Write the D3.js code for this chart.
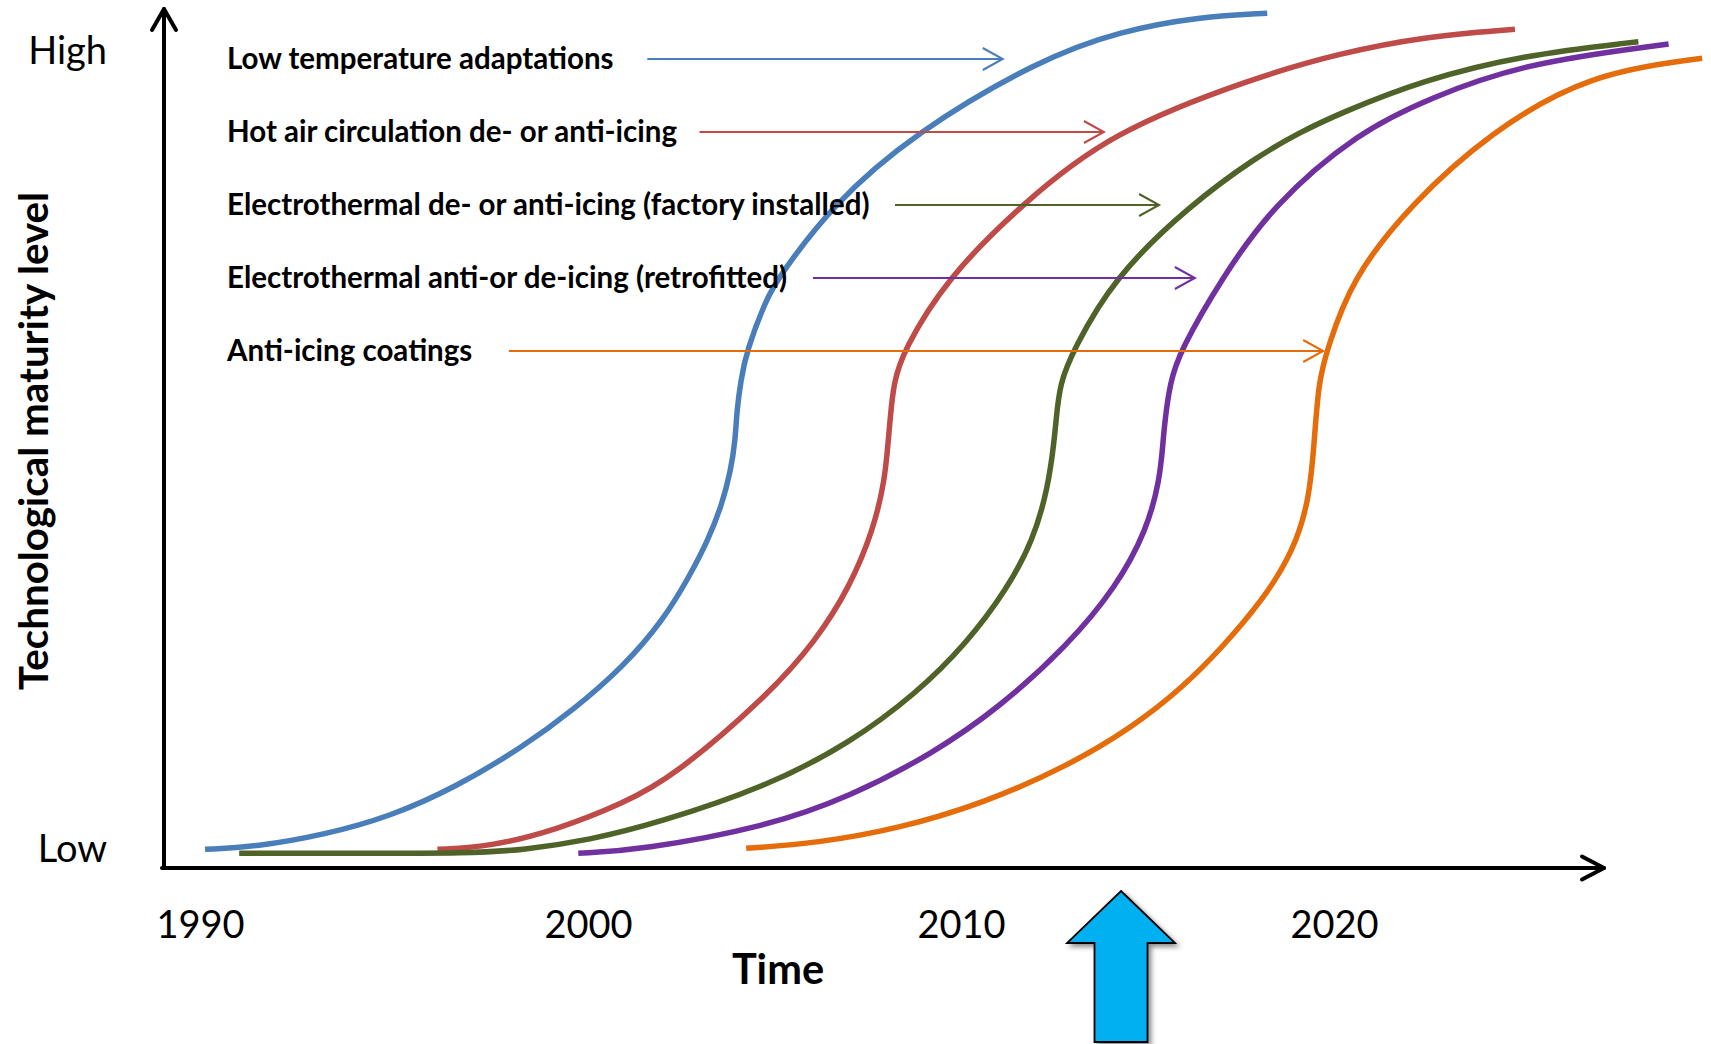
<!DOCTYPE html>
<html>
<head>
<meta charset="utf-8">
<script src="https://cdn.jsdelivr.net/npm/d3@7"></script>
<style>
  html, body { margin: 0; padding: 0; background: #ffffff; }
  svg { display: block; font-family: Lato, "Open Sans", sans-serif; }
</style>
</head>
<body>
<svg id="chart" width="1711" height="1044"></svg>
<script>
// ---- Technology names and line colours ----
const seriesNames = [
  "Low temperature adaptations",
  "Hot air circulation de- or anti-icing",
  "Electrothermal de- or anti-icing (factory installed)",
  "Electrothermal anti-or de-icing (retrofitted)",
  "Anti-icing coatings"
];
const seriesColors = ["#4A7EBB", "#BE4B48", "#4F6228", "#7030A0", "#E46C0A"];

// ---- S-curves: [year, maturity level 0..100] ----
const lowTemperature = [
  [1990.13, 2.15], [1991.46, 2.45], [1993.18, 3.80], [1994.90, 5.91], [1996.62, 9.37],
  [1998.33, 13.97], [1999.62, 18.20], [2000.95, 23.19], [2002.02, 28.57], [2002.71, 33.53],
  [2003.22, 37.79], [2003.59, 41.82], [2003.83, 45.85], [2003.95, 49.31], [2003.99, 52.76],
  [2004.10, 56.22], [2004.25, 59.56], [2004.77, 65.44], [2005.09, 67.94], [2006.54, 76.38],
  [2008.77, 84.76], [2012.12, 93.17], [2014.26, 96.43], [2016.41, 98.08], [2018.21, 98.47]
];
const hotAir = [
  [1996.12, 2.15], [1997.47, 2.45], [1999.19, 4.38], [2000.95, 7.45], [2002.29, 10.52],
  [2004.79, 19.74], [2006.13, 26.27], [2007.02, 32.41], [2007.65, 38.94], [2007.96, 44.70],
  [2008.05, 49.31], [2008.10, 51.61], [2008.19, 55.84], [2008.45, 59.56], [2009.62, 67.94],
  [2011.61, 76.38], [2013.99, 84.76], [2017.93, 91.16], [2020.16, 93.86], [2022.39, 95.77],
  [2024.85, 96.62]
];
const electroFactory = [
  [1991.01, 1.69], [1994.00, 1.69], [1996.94, 1.69], [1998.33, 2.07], [2000.05, 3.23],
  [2001.84, 5.15], [2004.79, 9.37], [2007.02, 14.37], [2008.81, 20.13], [2010.15, 25.89],
  [2011.22, 32.03], [2011.94, 37.79], [2012.34, 43.93], [2012.50, 49.31], [2012.55, 51.61],
  [2012.65, 55.84], [2013.00, 59.56], [2014.08, 67.94], [2016.14, 76.38], [2017.93, 81.95],
  [2019.09, 84.76], [2020.16, 86.95], [2022.39, 90.78], [2025.07, 93.66], [2028.16, 95.20]
];
const electroRetrofit = [
  [1999.75, 1.69], [2001.39, 2.07], [2004.79, 4.76], [2007.02, 8.21], [2009.26, 13.21],
  [2011.05, 18.58], [2012.83, 25.50], [2014.17, 32.41], [2014.98, 38.94], [2015.33, 44.70],
  [2015.42, 49.31], [2015.47, 51.61], [2015.60, 55.84], [2015.87, 59.56], [2016.99, 67.94],
  [2018.36, 76.38], [2020.64, 84.76], [2022.57, 88.71], [2025.08, 92.71], [2028.97, 94.93]
];
const coatings = [
  [2004.24, 2.27], [2006.13, 2.85], [2008.36, 4.57], [2010.60, 7.45], [2012.83, 11.67],
  [2014.62, 16.28], [2015.96, 20.89], [2016.94, 25.12], [2018.10, 30.88], [2018.93, 36.64],
  [2019.33, 42.40], [2019.46, 48.35], [2019.58, 55.84], [2019.80, 59.56], [2020.48, 67.94],
  [2022.04, 76.38], [2024.18, 84.76], [2026.86, 91.56], [2029.87, 93.28]
];
const seriesCurves = [lowTemperature, hotAir, electroFactory, electroRetrofit, coatings];

// ---- Label pointer arrows: start / end year on each label row ----
const pointerStart = [2001.59, 2002.99, 2008.23, 2006.03, 1997.96];
const pointerEnd   = [2011.12, 2013.83, 2015.31, 2016.27, 2019.71];

// ---- Axis labels ----
const tickYears = [1990, 2000, 2010, 2020];
const levelTicks = [2.1, 94.1];
const levelNames = ["Low", "High"];
const highlightYear = 2014.29;

// ---- Layout ----
const svg = d3.select("#chart");
const originX = 164, originY = 868, axisEndX = 1604, axisTopY = 9;

const x = d3.scaleLinear().domain([1990, 2000, 2020]).range([200, 588, 1334]);
const y = d3.scaleLinear().domain([0, 100]).range([originY, 0]);

const defs = svg.append("defs");
const shadow = defs.append("filter").attr("id", "arrowShadow")
  .attr("x", "-30%").attr("y", "-30%").attr("width", "160%").attr("height", "160%");
shadow.append("feDropShadow").attr("dx", 3).attr("dy", 3)
  .attr("stdDeviation", 2.5).attr("flood-color", "#000").attr("flood-opacity", 0.45);

// ---- Axes (arrowed lines) ----
const axisG = svg.append("g").attr("stroke", "#000").attr("stroke-width", 4)
  .attr("fill", "none").attr("stroke-linecap", "round").attr("stroke-linejoin", "round");
axisG.append("path").attr("d", `M${originX},${originY}V${axisTopY}`);
axisG.append("path").attr("d", `M${originX - 12},${axisTopY + 21}L${originX},${axisTopY}L${originX + 12},${axisTopY + 21}`);
axisG.append("path").attr("d", `M${originX - 2},${originY}H${axisEndX}`);
axisG.append("path").attr("d", `M${axisEndX - 22},${originY - 11.5}L${axisEndX},${originY}L${axisEndX - 22},${originY + 11.5}`);

// Year labels
const xAxis = d3.axisBottom(x).tickValues(tickYears).tickFormat(d3.format("d"))
  .tickSize(0).tickPadding(43);
const xAxisG = svg.append("g").attr("transform", `translate(0,${originY})`).call(xAxis);
xAxisG.select(".domain").remove();
xAxisG.selectAll("text").attr("font-family", "Lato, sans-serif")
  .attr("font-size", 38).attr("fill", "#000");

// Low / High labels
const yAxis = d3.axisLeft(y).tickValues(levelTicks)
  .tickFormat((d, i) => levelNames[i]).tickSize(0).tickPadding(57);
const yAxisG = svg.append("g").attr("transform", `translate(${originX},0)`).call(yAxis);
yAxisG.select(".domain").remove();
yAxisG.selectAll("text").attr("font-family", "Lato, sans-serif")
  .attr("font-size", 38).attr("fill", "#000");

// Axis titles
svg.append("text").attr("x", 778).attr("y", 984).attr("text-anchor", "middle")
  .attr("font-size", 41.5).attr("font-weight", 700).text("Time");
svg.append("text").attr("transform", "translate(48,441) rotate(-90)")
  .attr("text-anchor", "middle").attr("font-size", 40.3).attr("font-weight", 700)
  .text("Technological maturity level");

// ---- S-curves (smoothed B-spline through the sampled levels) ----
const line = d3.line()
  .x(d => x(d[0])).y(d => y(d[1]))
  .curve(d3.curveBasis);

svg.append("g").selectAll("path").data(seriesCurves).join("path")
  .attr("d", line)
  .attr("fill", "none")
  .attr("stroke", (d, i) => seriesColors[i])
  .attr("stroke-width", 5.5)
  .attr("stroke-linecap", "butt");

// ---- Labels with pointer arrows ----
const row = d3.scalePoint().domain(seriesNames).range([59, 351]);
const legend = svg.append("g");
legend.selectAll("text").data(seriesNames).join("text")
  .attr("x", 227).attr("y", d => row(d) + 10)
  .attr("font-size", 29.5).attr("font-weight", 700).attr("fill", "#000")
  .text(d => d);

const pointers = legend.selectAll("g.pointer").data(seriesNames).join("g")
  .attr("class", "pointer")
  .attr("stroke", (d, i) => seriesColors[i])
  .attr("stroke-width", 2).attr("fill", "none");
pointers.append("path")
  .attr("d", (d, i) => `M${x(pointerStart[i])},${row(d)}H${x(pointerEnd[i])}`);
pointers.append("path")
  .attr("stroke-linejoin", "miter")
  .attr("d", (d, i) => {
    const ex = x(pointerEnd[i]), ey = row(d);
    return `M${ex - 20},${ey - 11}L${ex},${ey}L${ex - 20},${ey + 11}`;
  });

// ---- Highlight arrow under the time axis ----
const tipX = x(highlightYear), tipY = 891;
const headHalf = 54, shaftHalf = 26.5, headBase = 943, shaftBottom = 1042;
const arrowPath = d3.path();
arrowPath.moveTo(tipX, tipY);
arrowPath.lineTo(tipX + headHalf, headBase);
arrowPath.lineTo(tipX + shaftHalf, headBase);
arrowPath.lineTo(tipX + shaftHalf, shaftBottom);
arrowPath.lineTo(tipX - shaftHalf, shaftBottom);
arrowPath.lineTo(tipX - shaftHalf, headBase);
arrowPath.lineTo(tipX - headHalf, headBase);
arrowPath.closePath();
svg.append("path").attr("d", arrowPath.toString())
  .attr("fill", "#00B0F0").attr("stroke", "#000").attr("stroke-width", 1.8)
  .attr("stroke-linejoin", "miter")
  .attr("filter", "url(#arrowShadow)");
</script>
</body>
</html>
